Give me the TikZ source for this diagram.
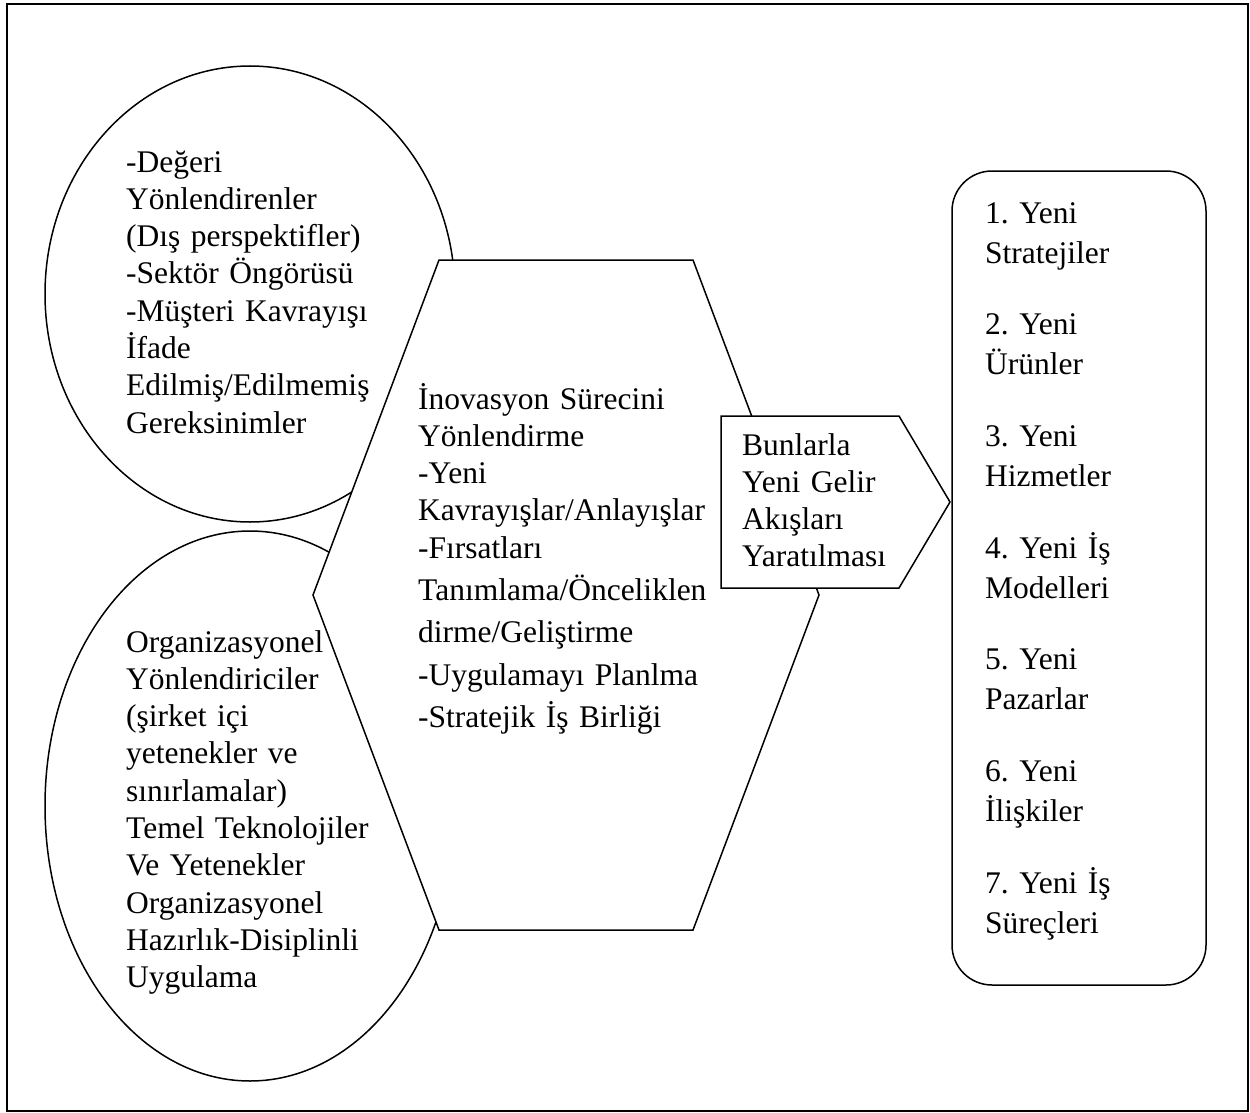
\documentclass[tikz,border=0pt]{standalone}
\usepackage{fontspec}
\setmainfont{Liberation Serif}
\usetikzlibrary{shapes.geometric}
\tikzset{
  shapeline/.style={
    draw=black,
    line width=1.5pt,
    fill=white,
  },
  bubble/.style={
    shapeline,
    ellipse,
    inner sep=0pt,
    minimum width=410pt,
  },
  txt/.style={
    anchor=base west,
    align=left,
    inner sep=0pt,
    font=\fontsize{31.5}{37.3}\selectfont\frenchspacing,
  },
}
\begin{document}
\begin{tikzpicture}[x=1pt, y=-1pt]
  \useasboundingbox (0,0) rectangle (1250,1113);
  \draw[line width=1.5pt] (7,4) rectangle (1248,1111);

  % --- Drivers (left, two ellipses) ---
  \node[bubble, minimum height=456pt] (outside) at (250,294) {};
  \node[bubble, minimum height=550pt] (inside)  at (250,806) {};

  % --- Innovation process (hexagon) ---
  \draw[shapeline] (439,260) -- (693,260) -- (819,595) -- (693,930)
    -- (439,930) -- (313,595) -- cycle;

  % --- Revenue streams (pentagon) ---
  \draw[shapeline] (721,416) -- (899,416) -- (950,502) -- (899,588)
    -- (721,588) -- cycle;

  % --- Outcomes (rounded box) ---
  \draw[shapeline, rounded corners=40pt] (952,171) rectangle (1206,985);

  % --- Texts ---
  \node[txt, text width=300pt] (outtext) at (126,172)
    {-Değeri\\Yönlendirenler\\(Dış perspektifler)\\-Sektör Öngörüsü\\-Müşteri Kavrayışı\\İfade\\Edilmiş/Edilmemiş\\Gereksinimler};
  \node[txt, text width=300pt] (intext) at (126,652)
    {Organizasyonel\\Yönlendiriciler\\(şirket içi\\yetenekler ve\\sınırlamalar)\\Temel Teknolojiler\\Ve Yetenekler\\Organizasyonel\\Hazırlık-Disiplinli\\Uygulama};
  \node[txt, text width=330pt] (process) at (418,409)
    {İnovasyon Sürecini\\Yönlendirme\\-Yeni\\Kavrayışlar/Anlayışlar\\-Fırsatları\\[5pt]Tanımlama/Önceliklen\\[5pt]dirme/Geliştirme\\[5pt]-Uygulamayı Planlma\\[5pt]-Stratejik İş Birliği};
  \node[txt, text width=200pt] (revenue) at (742,455)
    {Bunlarla\\Yeni Gelir\\Akışları\\Yaratılması};
  \node[txt, text width=220pt, font=\fontsize{31.5}{40}\selectfont\frenchspacing] (outcomes) at (985,223)
    {1. Yeni\\Stratejiler\\[31.7pt]2. Yeni\\Ürünler\\[31.7pt]3. Yeni\\Hizmetler\\[31.7pt]4. Yeni İş\\Modelleri\\[31.7pt]5. Yeni\\Pazarlar\\[31.7pt]6. Yeni\\İlişkiler\\[31.7pt]7. Yeni İş\\Süreçleri};
\end{tikzpicture}
\end{document}
